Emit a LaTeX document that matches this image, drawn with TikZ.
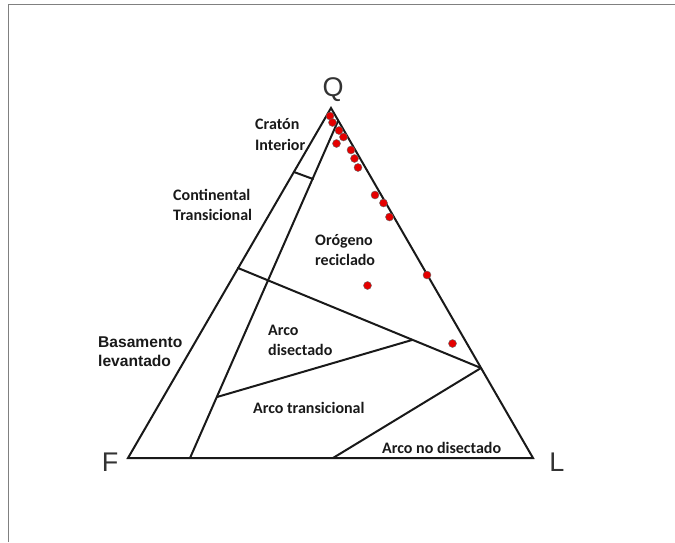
\documentclass[tikz,border=0pt]{standalone}
\usepackage{fontspec}
\setmainfont{Carlito}
\newfontfamily\vertexfont{Liberation Sans}
\begin{document}
\begin{tikzpicture}[x=1pt,y=-1pt,
  edge/.style={line width=2pt,black!90,line cap=round,line join=miter},
  region/.style={font=\fontsize{16}{20}\selectfont\bfseries,text=black!90,inner sep=0pt,anchor=base west},
  arialregion/.style={font=\vertexfont\fontsize{15.6}{19}\selectfont\bfseries,text=black!90,inner sep=0pt,anchor=base west},
  vertex/.style={font=\vertexfont\fontsize{27}{30}\selectfont,text=black!80,inner sep=0pt,anchor=base},
  sample/.style={circle,fill=red!90!black,draw=black!60,line width=0.4pt,minimum size=8pt,inner sep=0pt},
  frameline/.style={draw=gray,line width=1.4pt}]
\useasboundingbox (0,0) rectangle (675,542);
% frame
\coordinate (fa) at (8.5,542);
\coordinate (fb) at (8.5,4.5);
\coordinate (fc) at (675,4.5);
\draw[frameline] (fa) -- (fb) -- (fc);
% vertices
\coordinate (Q) at (331,108);
\coordinate (F) at (128,458);
\coordinate (L) at (533,458);
% internal points
\coordinate (qa) at (338,121);
\coordinate (fb1) at (190,458);
\coordinate (ca) at (294,172);
\coordinate (cb) at (313,179);
\coordinate (ra) at (238,268);
\coordinate (rb) at (481,368);
\coordinate (da) at (217,397);
\coordinate (db) at (412,340);
\coordinate (nb) at (333,458);
% edges
\draw[edge] (Q) -- (F) -- (L) -- cycle;
\draw[edge] (qa) -- (fb1);
\draw[edge] (ca) -- (cb);
\draw[edge] (ra) -- (rb);
\draw[edge] (da) -- (db);
\draw[edge] (rb) -- (nb);
% vertex labels
\node[vertex] (lq) at (333,96) {Q};
\node[vertex] (lf) at (110,471) {F};
\node[vertex] (ll) at (557,471) {L};
% region labels
\node[region] (t1) at (255,129) {Cratón};
\node[region] (t2) at (255,150) {Interior};
\node[region] (t3) at (173,200) {Continental};
\node[region] (t4) at (173,220) {Transicional};
\node[region] (t5) at (315,245) {Orógeno};
\node[region] (t6) at (315,265) {reciclado};
\node[region] (t7) at (268,335) {Arco};
\node[region] (t8) at (268,355) {disectado};
\node[arialregion] (t9) at (98,347) {Basamento};
\node[arialregion] (t10) at (98,366) {levantado};
\node[region] (t11) at (253,413) {Arco transicional};
\node[region] (t12) at (382,453) {Arco no disectado};
% samples
\node[sample] (s1) at (330,116) {};
\node[sample] (s2) at (332.5,122.5) {};
\node[sample] (s3) at (339,130.5) {};
\node[sample] (s4) at (343.5,137) {};
\node[sample] (s5) at (336.5,143.5) {};
\node[sample] (s6) at (351,150) {};
\node[sample] (s7) at (354.5,158.5) {};
\node[sample] (s8) at (358,167.5) {};
\node[sample] (s9) at (375,195) {};
\node[sample] (s10) at (383.5,203) {};
\node[sample] (s11) at (389.5,217) {};
\node[sample] (s12) at (427,275) {};
\node[sample] (s13) at (367.5,285.5) {};
\node[sample] (s14) at (452.5,343.5) {};
\end{tikzpicture}
\end{document}
